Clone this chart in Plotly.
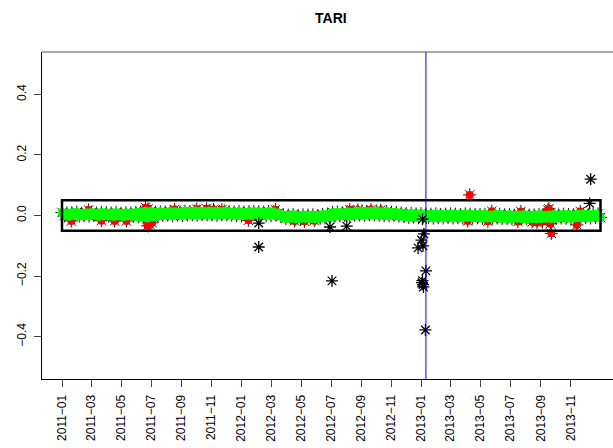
import pandas as pd
import plotly.graph_objects as go

# ---- data -------------------------------------------------------------
# daily-return band, sampled every 5 days from 2011-01-01 to 2013-12-31
band_start = "2011-01-01"
band_step_days = 5
band_values = [
    0.010, -0.001, 0.008, -0.003, 0.009, 0.000, 0.011, -0.002, 0.007, -0.001,
    0.009, -0.002, 0.010, 0.001, 0.008, -0.003, 0.010, -0.001, 0.009, -0.002,
    0.008, -0.003, 0.010, -0.002, 0.007, -0.004, 0.009, -0.001, 0.008, -0.003,
    0.010, -0.004, 0.012, -0.006, 0.014, -0.008, 0.013, -0.005, 0.011, -0.002,
    0.012, 0.000, 0.011, 0.001, 0.013, -0.001, 0.012, 0.002, 0.011, 0.000,
    0.014, 0.002, 0.013, 0.003, 0.015, 0.001, 0.014, 0.003, 0.013, 0.002,
    0.015, 0.002, 0.014, 0.001, 0.013, 0.003, 0.015, 0.002, 0.012, 0.001,
    0.012, 0.000, 0.013, -0.001, 0.011, 0.001, 0.012, 0.000, 0.013, -0.001,
    0.012, 0.001, 0.011, -0.001, 0.013, 0.000, 0.012, 0.002, 0.008, -0.003,
    0.002, -0.010, 0.001, -0.009, 0.003, -0.011, 0.000, -0.010, 0.002, -0.009,
    0.001, -0.010, 0.002, -0.011, 0.000, -0.009, 0.003, -0.008, 0.004, -0.006,
    0.010, -0.002, 0.011, -0.001, 0.009, 0.000, 0.012, -0.002, 0.011, 0.001,
    0.014, 0.002, 0.015, 0.001, 0.013, 0.003, 0.014, 0.002, 0.015, 0.001,
    0.012, 0.000, 0.013, -0.001, 0.011, 0.001, 0.010, -0.002, 0.008, -0.003,
    0.006, -0.006, 0.007, -0.005, 0.005, -0.007, 0.006, -0.004, 0.005, -0.006,
    0.004, -0.008, 0.005, -0.007, 0.003, -0.008, 0.004, -0.006, 0.005, -0.008,
    0.004, -0.007, 0.003, -0.008, 0.005, -0.006, 0.004, -0.008, 0.003, -0.007,
    0.003, -0.009, 0.004, -0.008, 0.002, -0.009, 0.003, -0.008, 0.004, -0.010,
    0.002, -0.010, 0.003, -0.011, 0.001, -0.009, 0.002, -0.010, 0.003, -0.011,
    0.001, -0.010, 0.002, -0.011, 0.003, -0.010, 0.001, -0.009, 0.002, -0.010,
    0.003, -0.009, 0.002, -0.008, 0.004, -0.009, 0.003, -0.010, 0.002, -0.008,
    0.004, -0.008, 0.005, -0.007, 0.003, -0.008, 0.004, -0.006, 0.005, -0.007,
]
band_dates = pd.date_range(band_start, periods=len(band_values),
                           freq=f"{band_step_days}D")

# flagged days (red)
red_dates = [
    "2011-01-20", "2011-02-24", "2011-03-22", "2011-04-18", "2011-05-12",
    "2011-06-20", "2011-06-25", "2011-06-28", "2011-07-03", "2011-06-24",
    "2011-08-18", "2011-10-02", "2011-10-22", "2011-11-05", "2011-11-22",
    "2012-01-15", "2012-03-10", "2012-04-18", "2012-05-08", "2012-05-28",
    "2012-08-08", "2012-08-25", "2012-09-20", "2012-10-10",
    "2013-04-09", "2013-04-05", "2013-05-16", "2013-05-24", "2013-07-16",
    "2013-07-22", "2013-08-14", "2013-08-24", "2013-09-04", "2013-09-15",
    "2013-09-17", "2013-09-20", "2013-09-22", "2013-11-13", "2013-11-20",
]
red_values = [
    -0.018, 0.018, -0.017, -0.018, -0.018,
    0.026, 0.022, -0.028, -0.024, -0.034,
    0.020, 0.021, 0.022, 0.020, 0.019,
    -0.016, 0.019, -0.018, -0.019, -0.017,
    0.019, 0.018, 0.019, 0.017,
    0.068, -0.018, -0.019, 0.014, -0.020,
    0.013, -0.021, -0.023, -0.021, 0.018,
    0.022, -0.027, -0.059, -0.031, 0.013,
]

# outlying days (black)
out_dates = [
    "2012-02-05", "2012-02-05", "2012-06-29", "2012-07-03", "2012-08-02",
    "2012-12-25", "2013-01-01", "2013-01-03", "2013-01-06", "2013-01-04",
    "2013-01-10", "2013-01-03", "2013-01-02", "2013-01-04", "2013-01-05",
    "2013-01-09", "2013-12-09", "2013-12-11",
]
out_values = [
    -0.104, -0.025, -0.038, -0.216, -0.035,
    -0.107, -0.081, -0.012, -0.061, -0.100,
    -0.183, -0.215, -0.222, -0.228, -0.236,
    -0.378, 0.040, 0.120,
]

event_date = "2013-01-10"
box_start, box_end = "2011-01-01", "2013-12-31"
box_low, box_high = -0.05, 0.05

tick_dates = pd.date_range("2011-01-01", "2013-11-01", freq="2MS")
tick_labels = [d.strftime("%Y\u2212%m") for d in tick_dates]
y_ticks = [-0.4, -0.2, 0.0, 0.2, 0.4]

# ---- figure -----------------------------------------------------------
fig = go.Figure()

all_dates = list(band_dates) + [pd.Timestamp(d) for d in red_dates]
all_vals = band_values + red_values
# dark star outline under every point
fig.add_trace(go.Scatter(
    x=all_dates, y=all_vals, mode="markers",
    marker=dict(symbol="asterisk-open", size=11, color="#222222",
                line=dict(color="#222222", width=1)),
    hoverinfo="skip", showlegend=False))
fig.add_trace(go.Scatter(
    x=red_dates, y=red_values, mode="markers",
    marker=dict(symbol="circle", size=8, color="#ff0000", line=dict(width=0)),
    showlegend=False))
fig.add_trace(go.Scatter(
    x=band_dates, y=band_values, mode="markers",
    marker=dict(symbol="circle", size=9, color="#00ff00", line=dict(width=0)),
    showlegend=False))
fig.add_trace(go.Scatter(
    x=out_dates, y=out_values, mode="markers",
    marker=dict(symbol="asterisk-open", size=10, color="black",
                line=dict(color="black", width=1.3)),
    showlegend=False))

fig.add_shape(type="rect", xref="x", yref="y",
              x0=box_start, x1=box_end, y0=box_low, y1=box_high,
              line=dict(color="black", width=2.5), layer="above")
fig.add_shape(type="line", xref="x", yref="paper",
              x0=event_date, x1=event_date, y0=0, y1=1,
              line=dict(color="blue", width=1), layer="above")
# top frame line
fig.add_shape(type="line", xref="paper", yref="paper",
              x0=0, x1=1, y0=1, y1=1,
              line=dict(color="#555555", width=1))

font = "Liberation Sans, Arial, Helvetica, sans-serif"
fig.update_layout(
    width=613, height=448,
    margin=dict(l=42, r=0, t=52, b=69),
    paper_bgcolor="white", plot_bgcolor="white",
    font=dict(family=font, size=12, color="black"),
    title=dict(text="TARI", x=0.506, xref="paper", xanchor="center",
               y=1 - 18 / 448, yref="container", yanchor="middle",
               font=dict(family=font, size=14, weight="bold", color="black")),
    xaxis=dict(type="date",
               range=["2010-11-21 08:00", "2014-01-25 10:00"],
               tickvals=list(tick_dates), ticktext=tick_labels,
               tickangle=-90, ticks="outside", ticklen=7,
               tickcolor="#444444", tickwidth=1,
               showgrid=False, zeroline=False,
               showline=True, linecolor="black", linewidth=1,
               ticklabelstandoff=3,
               tickfont=dict(family=font, size=12)),
    yaxis=dict(range=[-0.54, 0.54],
               tickvals=y_ticks, tickformat=".1f",
               tickangle=-90, ticks="outside", ticklen=7,
               tickcolor="#444444", tickwidth=1,
               showgrid=False, zeroline=False,
               showline=True, linecolor="black", linewidth=1,
               ticklabelstandoff=3,
               tickfont=dict(family=font, size=12)),
)

fig.write_html("out.html")
